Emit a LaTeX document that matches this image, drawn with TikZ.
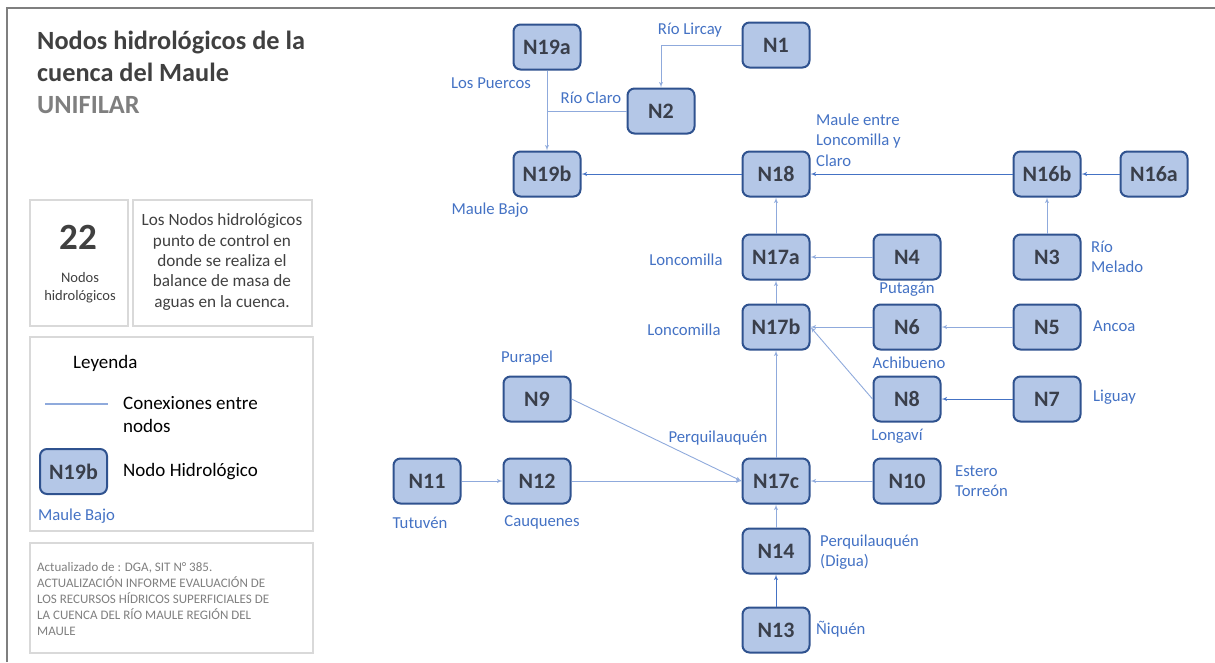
\documentclass[tikz,border=0pt]{standalone}
\usepackage{fontspec}
\setmainfont{Carlito}
\usepackage{tikz}
\usetikzlibrary{shapes,arrows}
\definecolor{nodofill}{HTML}{B4C7E7}
\definecolor{nodoborde}{HTML}{2F528F}
\definecolor{nodotexto}{HTML}{3A3F4B}
\definecolor{azul}{HTML}{4472C4}
\definecolor{azulclaro}{HTML}{8FAADC}
\definecolor{gris}{HTML}{7F7F7F}
\definecolor{grisclaro}{HTML}{D9D9D9}
\definecolor{oscuro}{HTML}{404040}
\tikzstyle{nodo} = [rectangle, draw=nodoborde, fill=nodofill, line width=2pt,
    rounded corners=7pt, minimum width=67pt, minimum height=45pt, inner sep=0pt,
    text=nodotexto, font=\fontsize{22}{22}\selectfont\bfseries]
\tikzstyle{rio} = [text=azul, font=\fontsize{16.7}{20.5}\selectfont, inner sep=0pt]
\tikzstyle{line} = [draw=azulclaro, line width=0.9pt, -latex']
\tikzstyle{cauce} = [draw=azul, line width=0.9pt, -latex']
\tikzstyle{caja} = [draw=grisclaro, line width=1.5pt]

\begin{document}
\begin{tikzpicture}[x=1pt, y=-1pt]
    \useasboundingbox (0,0) rectangle (1215,662);
    \draw[gris, line width=1.5pt] (7,662) -- (7,8) -- (1215,8);

    % Title
    \node [anchor=base west, inner sep=0pt, text=oscuro, font=\fontsize{26.3}{32}\selectfont\bfseries] (titulo1) at (37,49) {Nodos hidrológicos de la};
    \node [anchor=base west, inner sep=0pt, text=oscuro, font=\fontsize{26.3}{32}\selectfont\bfseries] (titulo2) at (37,81) {cuenca del Maule};
    \node [anchor=base west, inner sep=0pt, text=gris, font=\fontsize{26.3}{32}\selectfont\bfseries] (titulo3) at (37,113) {UNIFILAR};

    % Side boxes
    \draw [caja] (30,200) rectangle (128,326);
    \draw [caja] (133,200) rectangle (312,326);
    \draw [caja] (30,337) rectangle (313,531);
    \draw [caja] (30,543) rectangle (313,653);
    \node [inner sep=0pt, text=oscuro, font=\fontsize{37}{37}\selectfont\bfseries] (total) at (78,237) {22};
    \node [inner sep=0pt, text=oscuro, align=center, font=\fontsize{14.5}{18}\selectfont] (totaltxt) at (80,288) {Nodos\\hidrológicos};
    \node [inner sep=0pt, text=oscuro, align=center, font=\fontsize{17.2}{20.3}\selectfont] (descr) at (222,262)
        {Los Nodos hidrológicos\\punto de control en\\donde se realiza el\\balance de masa de\\aguas en la cuenca.};

    % Legend
    \node [anchor=west, inner sep=0pt, font=\fontsize{19}{23}\selectfont] (leyenda) at (73,363) {Leyenda};
    \coordinate (lineaA) at (45,404);
    \coordinate (lineaB) at (108,404);
    \draw [azulclaro, line width=1.2pt] (lineaA) -- (lineaB);
    \node [anchor=west, inner sep=0pt, align=left, font=\fontsize{19}{23}\selectfont] (conex) at (123,415) {Conexiones entre\\nodos};
    \node [nodo] (ejemplo) at (73.5,471.5) {N19b};
    \node [anchor=west, inner sep=0pt, font=\fontsize{19}{23}\selectfont] (nodotxt) at (123,472) {Nodo Hidrológico};
    \node [rio, anchor=west] (ejemplotxt) at (38,516) {Maule Bajo};

    % Source
    \node [anchor=north west, inner sep=0pt, align=left, text=gris, font=\fontsize{13}{16}\selectfont] (fuente) at (37,562)
        {Actualizado de : DGA, SIT N° 385.\\ACTUALIZACIÓN INFORME EVALUACIÓN DE\\LOS RECURSOS HÍDRICOS SUPERFICIALES DE\\LA CUENCA DEL RÍO MAULE REGIÓN DEL\\MAULE};

    % Place nodes
    \node [nodo] (N19a) at (547,47) {N19a};
    \node [nodo] (N1) at (776,45) {N1};
    \node [nodo] (N2) at (661,111) {N2};
    \node [nodo] (N19b) at (547,174) {N19b};
    \node [nodo] (N18) at (776,174) {N18};
    \node [nodo] (N16b) at (1047,174) {N16b};
    \node [nodo] (N16a) at (1154,174) {N16a};
    \node [nodo] (N17a) at (776,257) {N17a};
    \node [nodo] (N4) at (907,257) {N4};
    \node [nodo] (N3) at (1047,257) {N3};
    \node [nodo] (N17b) at (776,327) {N17b};
    \node [nodo] (N6) at (907,327) {N6};
    \node [nodo] (N5) at (1047,327) {N5};
    \node [nodo] (N9) at (537,399) {N9};
    \node [nodo] (N8) at (907,399) {N8};
    \node [nodo] (N7) at (1047,399) {N7};
    \node [nodo] (N11) at (427,481) {N11};
    \node [nodo] (N12) at (537,481) {N12};
    \node [nodo] (N17c) at (776,481) {N17c};
    \node [nodo] (N10) at (907,481) {N10};
    \node [nodo] (N14) at (776,551) {N14};
    \node [nodo] (N13) at (776,630) {N13};

    % Labels
    \node [rio] (lircay) at (690,30) {Río Lircay};
    \node [rio] (puercos) at (491,83) {Los Puercos};
    \node [rio] (claro) at (591,98) {Río Claro};
    \node [rio] (bajo) at (490,210) {Maule Bajo};
    \node [rio, anchor=west, align=left] (entre) at (816,140) {Maule entre\\Loncomilla y\\Claro};
    \node [rio, anchor=west, align=left] (melado) at (1091,257) {Río\\Melado};
    \node [rio] (loncoA) at (686,260) {Loncomilla};
    \node [rio] (putagan) at (907,289) {Putagán};
    \node [rio] (loncoB) at (684,330) {Loncomilla};
    \node [rio, anchor=west] (ancoa) at (1093,326) {Ancoa};
    \node [rio] (achibueno) at (909,363) {Achibueno};
    \node [rio, anchor=west] (liguay) at (1093,397) {Liguay};
    \node [rio] (longavi) at (897,436) {Longaví};
    \node [rio] (purapel) at (527,358) {Purapel};
    \node [rio] (perquil) at (718,438) {Perquilauquén};
    \node [rio] (tutuven) at (420,523) {Tutuvén};
    \node [rio] (cauquenes) at (542,522) {Cauquenes};
    \node [rio, anchor=west, align=left] (torreon) at (955,481) {Estero\\Torreón};
    \node [rio, anchor=west, align=left] (digua) at (820,552) {Perquilauquén\\(Digua)};
    \node [rio, anchor=west] (niquen) at (816,629) {Ñiquén};

    % Draw edges
    % Upper basin
    \path [line] (N1.west) -| (N2.north);
    \draw [azulclaro, line width=0.9pt] (N2.west) -- (N2.west -| N19a.south);
    \path [line] (N19a) -- (N19b);
    \path [cauce] (N18) -- (N19b);
    \path [cauce] (N16b) -- (N18);
    \path [cauce] (N16a) -- (N16b);
    \path [line] (N3) -- (N16b);

    % Loncomilla
    \path [line] (N17a) -- (N18);
    \path [line] (N4) -- (N17a);
    \path [line] (N17b) -- (N17a);
    \path [line] (N6) -- (N17b);
    \path [line] (N5) -- (N6);
    \path [line] (N8.west) -- (N17b.east);
    \path [cauce] (N7) -- (N8);

    % Perquilauquen
    \path [line] (N17c) -- (N17b);
    \path [line] (N9.east) -- (N17c.west);
    \path [line] (N12) -- (N17c);
    \path [line] (N11) -- (N12);
    \path [line] (N10) -- (N17c);
    \path [line] (N14) -- (N17c);
    \path [cauce] (N13) -- (N14);

\end{tikzpicture}
\end{document}
